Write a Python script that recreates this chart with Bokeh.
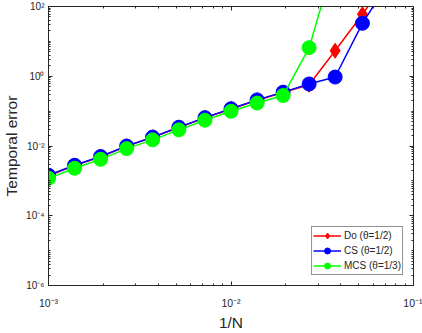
from bokeh.plotting import figure
from bokeh.models import LogAxis, FixedTicker, Legend, LegendItem, Range1d
from bokeh.embed import file_html
from bokeh.resources import INLINE

# ---- data ----
inv_N = [0.001, 0.00139, 0.00193, 0.00268, 0.00372, 0.00518, 0.0072,
         0.01, 0.0139, 0.0193, 0.0268, 0.0372, 0.0525, 0.072]
do_err = [1.40e-3, 2.75e-3, 4.9e-3, 9.8e-3, 1.78e-2, 3.4e-2, 6.4e-2,
          0.115, 0.205, 0.34, 0.57, 5.4, 60, 600]
cs_err = [1.45e-3, 2.8e-3, 5.0e-3, 1.0e-2, 1.8e-2, 3.45e-2, 6.5e-2,
          0.117, 0.21, 0.35, 0.6, 0.95, 33, 440]
mcs_err = [1.18e-3, 2.3e-3, 4.15e-3, 8.4e-3, 1.5e-2, 2.9e-2, 5.5e-2,
           0.099, 0.17, 0.28, 6.6, 2400]
labels = ["Do (θ=1/2)", "CS (θ=1/2)", "MCS (θ=1/3)"]

x_ticks = [1e-3, 1e-2, 1e-1]
x_tick_labels = ["10⁻³", "10⁻²", "10⁻¹"]
y_ticks = [1e-6, 1e-4, 1e-2, 1.0, 1e2]
y_tick_labels = ["10⁻⁶", "10⁻⁴", "10⁻²", "10⁰", "10²"]

AX = "#262626"
FONT = "Liberation Sans"

p = figure(width=422, height=333, x_axis_type="log", y_axis_type="log",
           x_range=Range1d(1e-3, 1e-1), y_range=Range1d(1e-6, 1e2),
           output_backend="svg", toolbar_location=None,
           min_border_left=44, min_border_right=9, min_border_top=6,
           min_border_bottom=42)
p.outline_line_color = None
p.xgrid.visible = False
p.ygrid.visible = False

x_minor = [m * 10.0 ** k for k in range(-3, -1) for m in range(1, 10)] + [1e-1]
y_minor = [m * 10.0 ** k for k in range(-6, 2) for m in range(1, 10)] + [1e2]
xt = FixedTicker(ticks=x_ticks, minor_ticks=x_minor)
yt = FixedTicker(ticks=y_ticks, minor_ticks=y_minor)


def style(ax, show_labels):
    ax.axis_line_color = AX
    ax.major_tick_line_color = AX
    ax.minor_tick_line_color = AX
    ax.major_tick_in = 4
    ax.major_tick_out = 0
    ax.minor_tick_in = 2
    ax.minor_tick_out = 0
    ax.major_label_text_font = FONT
    ax.major_label_text_color = AX
    if show_labels:
        ax.major_label_text_font_size = "10.5px"
    else:
        ax.major_label_text_font_size = "1px"
        ax.major_label_text_alpha = 0
        ax.major_label_standoff = 0


xa = p.xaxis[0]
ya = p.yaxis[0]
xa.ticker = xt
ya.ticker = yt
style(xa, True)
style(ya, True)
ya.major_label_text_font_size = "10px"
xa.major_label_overrides = dict(zip(x_ticks, x_tick_labels))
ya.major_label_overrides = dict(zip(y_ticks, y_tick_labels))
xa.major_label_standoff = 11
ya.major_label_standoff = 4
for ax, txt in ((xa, "1/N"), (ya, "Temporal error")):
    ax.axis_label = txt
    ax.axis_label_text_font = FONT
    ax.axis_label_text_font_style = "normal"
    ax.axis_label_text_font_size = "15.5px"
    ax.axis_label_text_color = AX
xa.axis_label_standoff = 2
ya.axis_label_standoff = 3

top = LogAxis(ticker=xt)
style(top, False)
p.add_layout(top, "above")
right = LogAxis(ticker=yt)
style(right, False)
p.add_layout(right, "right")

series = [(inv_N, do_err, "#ff0000", "diamond", 15),
          (inv_N, cs_err, "#0000ff", "circle", 14),
          (inv_N[:len(mcs_err)], mcs_err, "#00ff00", "circle", 14)]
items = []
for (xs, ys, col, mk, sz), lab in zip(series, labels):
    rl = p.line(xs, ys, line_color=col, line_width=1.5)
    rs = p.scatter(xs, ys, marker=mk, size=sz, fill_color=col, line_color=col)
    items.append(LegendItem(label=lab, renderers=[rl, rs]))

leg = Legend(items=items, location="bottom_right")
leg.margin = 10
leg.padding = 1
leg.spacing = 0
leg.glyph_height = 15
leg.glyph_width = 28
leg.label_height = 15
leg.label_standoff = 3
leg.label_text_font = FONT
leg.label_text_font_size = "10px"
leg.label_text_color = AX
leg.border_line_color = AX
leg.border_line_width = 1
leg.background_fill_alpha = 1
p.add_layout(leg)

open("out.html", "w").write(file_html(p, INLINE))
